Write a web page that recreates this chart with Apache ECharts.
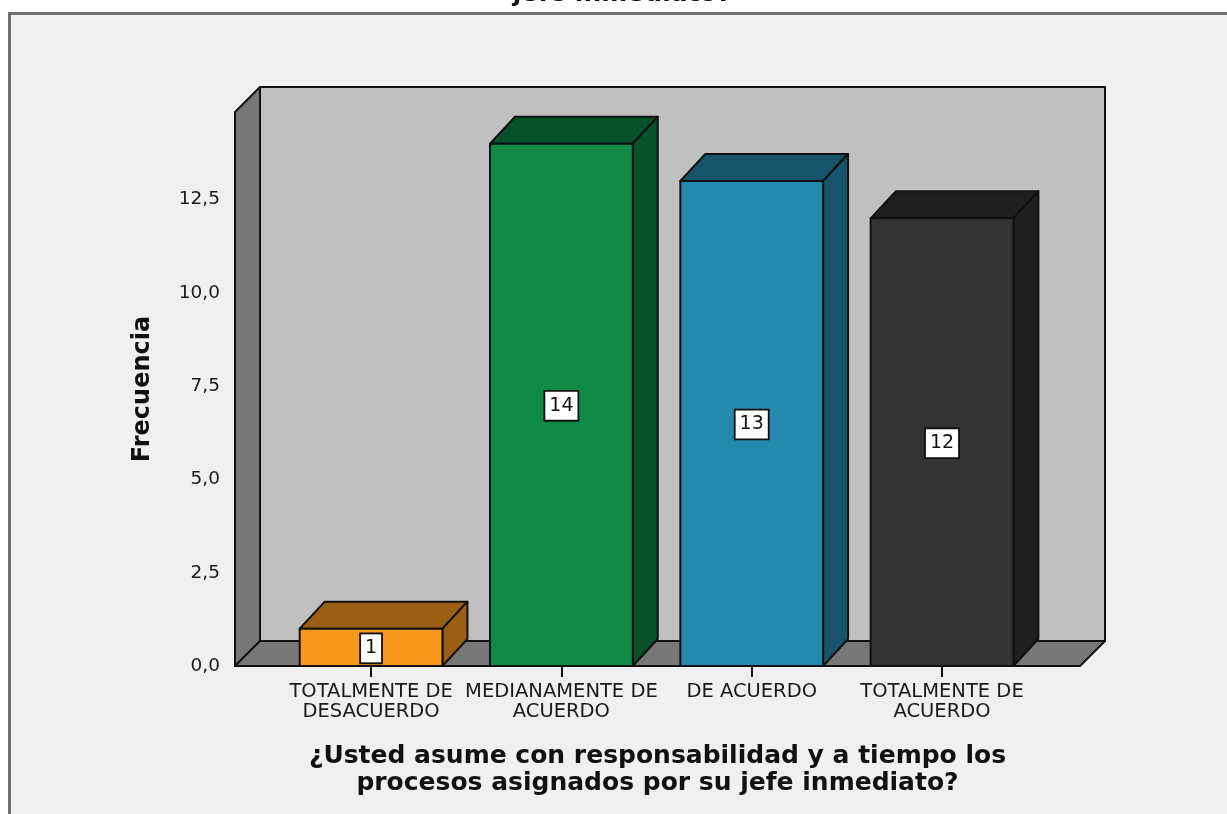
<!DOCTYPE html>
<html>
<head>
<meta charset="utf-8">
<script src="https://cdn.jsdelivr.net/npm/echarts@6/dist/echarts.min.js"></script>
<style>
html, body { margin: 0; padding: 0; background: #ffffff; }
#chart { width: 1227px; height: 814px; }
</style>
</head>
<body>
<div id="chart"></div>
<script>
// ---- data ----
const categories = ['TOTALMENTE DE\nDESACUERDO', 'MEDIANAMENTE DE\nACUERDO', 'DE ACUERDO', 'TOTALMENTE DE\nACUERDO'];
const frequencies = [1, 14, 13, 12];
const yTickValues = [0, 2.5, 5, 7.5, 10, 12.5];
const xTitle = '¿Usted asume con responsabilidad y a tiempo los\nprocesos asignados por su jefe inmediato?';
const yTitle = 'Frecuencia';
const cutTitle = 'jefe inmediato?';

// ---- style ----
const frontColors = ['#f7981d', '#0f8b47', '#2389ad', '#333333'];
const darkColors = ['#9a5e14', '#075228', '#16546b', '#1f1f1f'];
const DX = 25, DY = -27;
const BAR_W = 0.75;
const FONT = '"DejaVu Sans", sans-serif';

const chart = echarts.init(document.getElementById('chart'), null, { renderer: 'canvas' });

function wallsRender(params, api) {
  const cs = params.coordSys;
  const x = cs.x, y = cs.y, w = cs.width, h = cs.height;
  const wdy = -25;
  const stroke = { stroke: '#111', lineWidth: 2, lineJoin: 'round' };
  return {
    type: 'group',
    children: [
      { type: 'polygon', shape: { points: [[x + DX, y + wdy], [x + w + DX, y + wdy], [x + w + DX, y + h + wdy], [x + DX, y + h + wdy]] },
        style: Object.assign({ fill: '#c0c0c0' }, stroke) },
      { type: 'polygon', shape: { points: [[x, y], [x + DX, y + wdy], [x + DX, y + h + wdy], [x, y + h]] },
        style: Object.assign({ fill: '#777777' }, stroke) },
      { type: 'polygon', shape: { points: [[x, y + h], [x + DX, y + h + wdy], [x + w + DX, y + h + wdy], [x + w, y + h]] },
        style: Object.assign({ fill: '#777777' }, stroke) }
    ]
  };
}

function barRender(params, api) {
  const i = api.value(0), v = api.value(1);
  const base = api.coord([i, 0]);
  const top = api.coord([i, v]);
  const halfW = api.size([BAR_W, 0])[0] / 2;
  const x0 = base[0] - halfW, x1 = base[0] + halfW, yb = base[1], yt = top[1];
  const idx = params.dataIndex;
  const stroke = { stroke: '#111', lineWidth: 2, lineJoin: 'round' };
  return {
    type: 'group',
    children: [
      { type: 'polygon', shape: { points: [[x0, yt], [x0 + DX, yt + DY], [x1 + DX, yt + DY], [x1, yt]] },
        style: Object.assign({ fill: darkColors[idx] }, stroke) },
      { type: 'polygon', shape: { points: [[x1, yt], [x1 + DX, yt + DY], [x1 + DX, yb + DY], [x1, yb]] },
        style: Object.assign({ fill: darkColors[idx] }, stroke) },
      { type: 'rect', shape: { x: x0, y: yt, width: x1 - x0, height: yb - yt },
        style: Object.assign({ fill: frontColors[idx] }, stroke) },
      { type: 'text', x: base[0], y: (yt + yb) / 2 + 1,
        style: { text: String(v), align: 'center', verticalAlign: 'middle', fill: '#111',
          font: '19px ' + FONT, backgroundColor: '#ffffff', borderColor: '#111', borderWidth: 1.8,
          padding: [5, 4, 4, 4] } }
    ]
  };
}

const option = {
  backgroundColor: '#ffffff',
  animation: false,
  graphic: [
    { type: 'rect', z: -10, shape: { x: 9.5, y: 13.5, width: 1300, height: 900 },
      style: { fill: '#f0f0f0', stroke: '#707070', lineWidth: 3 } },
    { type: 'text', z: -9, x: 622, y: -6,
      style: { text: cutTitle, align: 'center', verticalAlign: 'middle', fill: '#111',
        font: 'bold 25px ' + FONT } }
  ],
  grid: { left: 235, right: 147, top: 112, bottom: 148, containLabel: false },
  xAxis: {
    type: 'value', min: -0.715, max: 3.725,
    name: xTitle, nameLocation: 'middle', nameGap: 77,
    nameTextStyle: { fontFamily: FONT, fontWeight: 'bold', fontSize: 25, color: '#111', lineHeight: 27 },
    axisLine: { show: true, onZero: false, lineStyle: { color: '#111', width: 2 } },
    axisTick: { show: true, length: 11, customValues: [0, 1, 2, 3], lineStyle: { color: '#111', width: 2 } },
    axisLabel: { show: true, customValues: [0, 1, 2, 3], margin: 16, color: '#1a1a1a', fontFamily: FONT, fontSize: 19.5, lineHeight: 20,
      formatter: function (v) { return categories[Math.round(v)]; } },
    splitLine: { show: false }
  },
  yAxis: {
    type: 'value', min: 0, max: 14.85, interval: 2.5,
    name: yTitle, nameLocation: 'middle', nameGap: 80, nameRotate: 90,
    nameTextStyle: { fontFamily: FONT, fontWeight: 'bold', fontSize: 24, color: '#111' },
    axisLine: { show: true, lineStyle: { color: '#111', width: 2 } },
    axisTick: { show: true, length: 12, customValues: yTickValues, lineStyle: { color: '#111', width: 2 } },
    axisLabel: { customValues: yTickValues, margin: 15, color: '#1a1a1a', fontFamily: FONT, fontSize: 18.5,
      formatter: function (v) { return v.toFixed(1).replace('.', ','); } },
    splitLine: { show: false }
  },
  series: [
    { type: 'custom', name: 'walls', renderItem: wallsRender, data: [[0, 0]], silent: true, z: 1, clip: false },
    { type: 'custom', name: 'Frecuencia', renderItem: barRender, z: 2, clip: false,
      data: frequencies.map(function (f, i) { return [i, f]; }) }
  ]
};
chart.setOption(option);
</script>
</body>
</html>
